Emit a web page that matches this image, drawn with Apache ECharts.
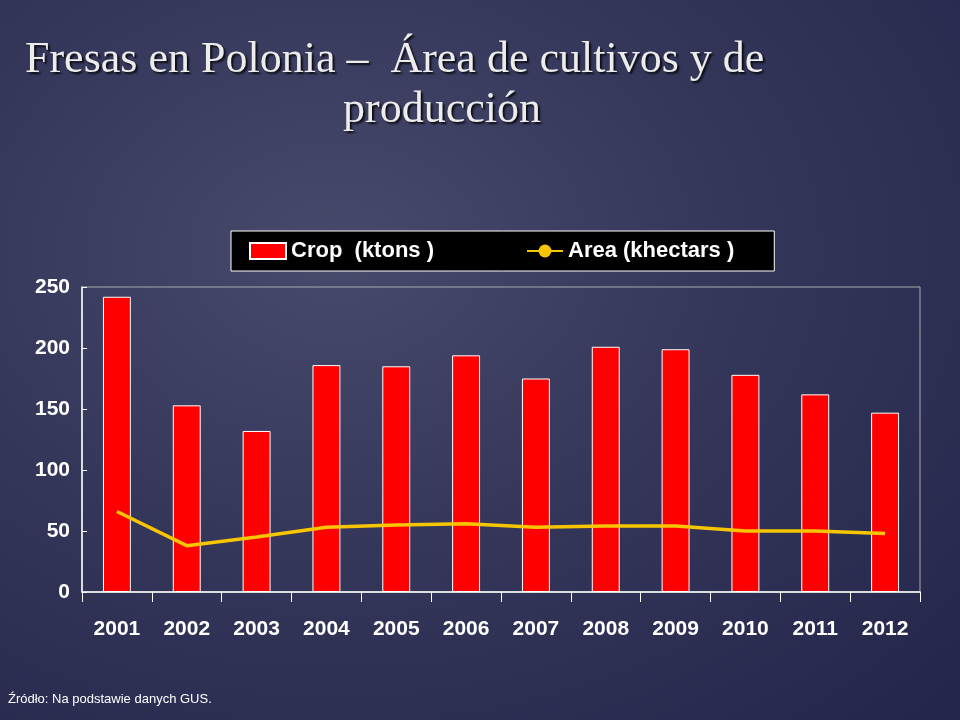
<!DOCTYPE html>
<html>
<head>
<meta charset="utf-8">
<script src="https://cdn.jsdelivr.net/npm/echarts@6/dist/echarts.min.js"></script>
<style>
html,body{margin:0;padding:0;}
#chart{width:960px;height:720px;background:radial-gradient(ellipse at 35% 35%,#474a6b 0%,#34375a 45%,#23264a 100%);}
</style>
</head>
<body>
<div id="chart"></div>
<script>
var years = ['2001','2002','2003','2004','2005','2006','2007','2008','2009','2010','2011','2012'];
var crop = [242,153,132,186,185,194,175,201,199,178,162,147];
var area = [66,38,45,53,55,56,53,54,54,50,50,48];

var chart = echarts.init(document.getElementById('chart'));
var axisText = {color:'#fff',fontFamily:'Liberation Sans, Arial',fontWeight:'bold',fontSize:21};
var titleStyle = {fill:'#ececec', font:'44px Liberation Serif, serif',
	textShadowColor:'rgba(0,0,0,0.8)', textShadowOffsetX:2, textShadowOffsetY:2, textShadowBlur:2};
chart.setOption({
	legend: {
		left: 231, top: 231, width: 552, height: 40,
		backgroundColor:'#000', borderColor:'#fff', borderWidth:1,
		padding:[9,40,9,18], itemGap:92, itemWidth:36, itemHeight:16,
		textStyle: {color:'#fff',fontFamily:'Liberation Sans, Arial',fontWeight:'bold',fontSize:22},
		data: [{name:'Crop  (ktons )',icon:'rect'},{name:'Area (khectars )'}]
	},
	graphic: [
		{type:'text', left:25, top:38, style:Object.assign({text:'Fresas en Polonia –  Área de cultivos y de'},titleStyle)},
		{type:'text', left:343, top:88, style:Object.assign({text:'producción'},titleStyle)},
		{type:'text', left:8, top:693,
			style:{text:'Źródło: Na podstawie danych GUS.',fill:'#fff',font:'13px Liberation Sans, Arial'}}
	],
	grid: {left:82, right:40, top:287, bottom:128, show:true, borderColor:'#aaa', borderWidth:1},
	xAxis: {
		type:'category', data:years,
		axisLine:{lineStyle:{color:'#fff',width:1.5}},
		axisTick:{show:true,interval:0,length:10,lineStyle:{color:'#fff'}},
		axisLabel:Object.assign({margin:27},axisText)
	},
	yAxis: {
		type:'value', min:0, max:250, interval:50,
		splitLine:{show:false},
		axisLine:{show:true,lineStyle:{color:'#fff',width:1.5}},
		axisTick:{show:true,inside:true,length:5,lineStyle:{color:'#fff'}},
		axisLabel:Object.assign({margin:12},axisText)
	},
	series: [
		{name:'Crop  (ktons )', type:'bar', data:crop, barWidth:'40%',
			itemStyle:{color:'#ff0000',borderColor:'#fff',borderWidth:1}},
		{name:'Area (khectars )', type:'line', data:area, symbol:'none', showSymbol:false,
			lineStyle:{color:'#f7c600',width:3.5}, itemStyle:{color:'#f7c600'}}
	]
});
</script>
</body>
</html>
